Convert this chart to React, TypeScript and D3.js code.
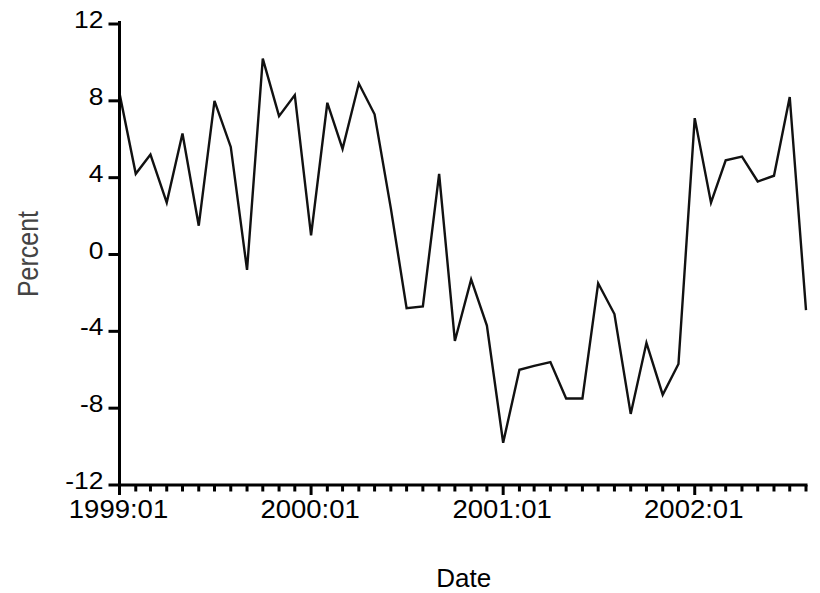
import React from "react";
import * as d3 from "d3";

// Monthly percent series, 1999:01 through 2002:08
const startMonth = new Date(1999, 0, 1);
const percentValues: number[] = [
  8.4, 4.2, 5.2, 2.7, 6.3, 1.5, 8.0, 5.6, -0.8, 10.2, 7.2, 8.3,
  1.0, 7.9, 5.5, 8.9, 7.3, 2.4, -2.8, -2.7, 4.2, -4.5, -1.3, -3.7,
  -9.8, -6.0, -5.8, -5.6, -7.5, -7.5, -1.5, -3.1, -8.3, -4.6, -7.3, -5.7,
  7.1, 2.7, 4.9, 5.1, 3.8, 4.1, 8.2, -2.9,
];
const yTicks: number[] = [-12, -8, -4, 0, 4, 8, 12];
const xTickLabels: string[] = ["1999:01", "2000:01", "2001:01", "2002:01"];

const W = 820;
const H = 593;
const margin = { left: 119.5, right: 14, top: 24, bottom: 108 };
const FONT = "'Liberation Sans', Arial, Helvetica, sans-serif";

export default function App() {
  const months = percentValues.map((_, i) => d3.timeMonth.offset(startMonth, i));
  const x = d3
    .scaleTime()
    .domain([months[0], months[months.length - 1]])
    .range([margin.left, W - margin.right]);
  const y = d3.scaleLinear().domain([-12, 12]).range([H - margin.bottom, margin.top]);
  const fmt = d3.timeFormat("%Y:%m");

  const line = d3
    .line<number>()
    .x((_, i) => x(months[i]))
    .y((v) => y(v));

  const x0 = x.range()[0];
  const x1 = x.range()[1];
  const yBase = y(-12);

  return (
    <svg
      width={W}
      height={H}
      style={{ position: "absolute", left: 0, top: 0, background: "#fff" }}
    >
      {/* series */}
      <path d={line(percentValues) ?? ""} fill="none" stroke="#111" strokeWidth={2.4} strokeLinejoin="miter" />

      {/* y axis */}
      <line x1={x0} x2={x0} y1={y(12) - 3} y2={yBase + 1.5} stroke="#000" strokeWidth={3} />
      {yTicks.map((t) => (
        <g key={t}>
          <line x1={x0 - 11} x2={x0} y1={y(t)} y2={y(t)} stroke="#000" strokeWidth={3} />
          <text
            transform={`translate(${x0 - 16},${y(t) + 4}) scale(1.15,1)`}
            textAnchor="end"
            fontFamily={FONT}
            fontSize={23}
            fill="#000"
          >
            {t}
          </text>
        </g>
      ))}

      {/* x axis */}
      <line x1={x0 - 1.5} x2={x1 + 1.5} y1={yBase} y2={yBase} stroke="#000" strokeWidth={3} />
      {months.map((m, i) => {
        const major = xTickLabels.includes(fmt(m));
        return (
          <line
            key={i}
            x1={x(m)}
            x2={x(m)}
            y1={yBase}
            y2={yBase + (major ? 10 : 6.5)}
            stroke="#000"
            strokeWidth={3}
          />
        );
      })}
      {months
        .filter((m) => xTickLabels.includes(fmt(m)))
        .map((m) => (
          <text
            key={fmt(m)}
            transform={`translate(${x(m) - 1},518) scale(1.1,1)`}
            textAnchor="middle"
            fontFamily={FONT}
            fontSize={25}
            fill="#000"
          >
            {fmt(m)}
          </text>
        ))}

      {/* axis titles */}
      <text
        x={(x0 + x1) / 2 + 1}
        y={587}
        textAnchor="middle"
        fontFamily={FONT}
        fontSize={26}
        fill="#000"
      >
        Date
      </text>
      <text
        transform={`translate(38,254) rotate(-90) scale(1,1.2)`}
        textAnchor="middle"
        fontFamily={FONT}
        fontSize={25}
        fill="#444"
      >
        Percent
      </text>
    </svg>
  );
}
